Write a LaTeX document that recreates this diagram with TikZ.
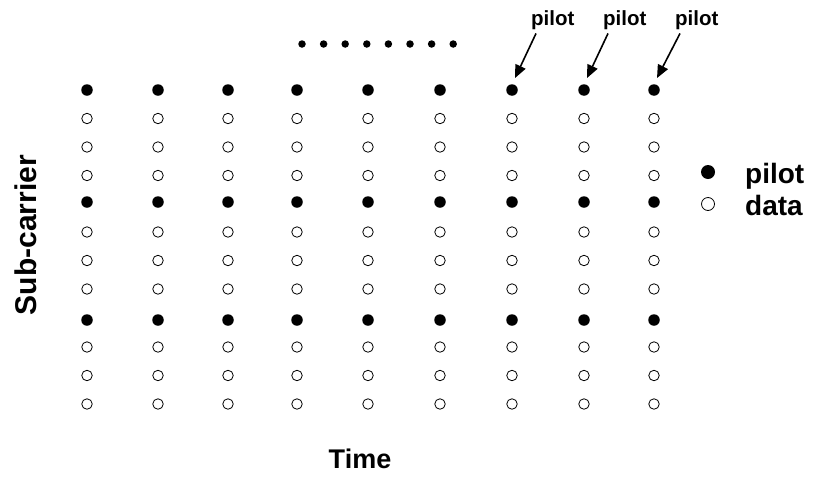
\documentclass[tikz,border=0pt]{standalone}
\usepackage{fontspec}
\setmainfont{Liberation Sans}
\usepackage{tikz}
\usetikzlibrary{arrows.meta}

\begin{document}
\begin{tikzpicture}[x=1pt, y=-1pt]
\tikzstyle{pilot}=[circle, fill=black, minimum size=11.5pt, inner sep=0pt]
\tikzstyle{data}=[circle, draw, line width=0.8pt, minimum size=10.5pt, inner sep=0pt]
\tikzstyle{more}=[circle, fill=black, minimum size=7.5pt, inner sep=0pt]
\tikzstyle{tag}=[font=\bfseries\fontsize{20.5}{24}\selectfont, inner sep=0pt, anchor=base west]
\tikzstyle{key}=[font=\bfseries\fontsize{28}{32}\selectfont, inner sep=0pt, anchor=base west]
\tikzstyle{axis}=[font=\bfseries\fontsize{27}{32}\selectfont, inner sep=0pt, anchor=base]
\tikzstyle{pointer}=[line width=1.6pt, -{Triangle[length=13pt, width=11pt]}]
\useasboundingbox (0,0) rectangle (813,477);

% time slots x sub-carriers, a pilot every fourth sub-carrier
\foreach \x [count=\c] in {87,158,228,297,368,440,512,584,654}
  \foreach \y [count=\r] in {90,118.5,147,175.5,202,232,260.5,289,320,347,375.5,404}
  {
    \pgfmathtruncatemacro{\k}{mod(\r-1,4)}
    \ifnum\k=0
      \node[pilot] (d\c-\r) at (\x,\y) {};
    \else
      \node[data] (d\c-\r) at (\x,\y) {};
    \fi
  }

% more symbols follow
\foreach \i in {0,...,7}
  \node[more] (m\i) at (302+21.6*\i,44) {};

% pilot labels over the last three symbols
\node[tag] (t7) at (531,25) {pilot};
\node[tag] (t8) at (603,25) {pilot};
\node[tag] (t9) at (675,25) {pilot};
\foreach \c in {7,8,9}
  \draw[pointer] ([xshift=5pt,yshift=-4pt]t\c.south west) -- ([xshift=3pt,yshift=6pt]d\c-1.north);

% legend
\node[pilot, minimum size=14pt] (kp) at (708,172) {};
\node[data, minimum size=13pt] (kd) at (708,204) {};
\node[key] (kpt) at (745,183) {pilot};
\node[key] (kdt) at (745,215) {data};

% axes
\node[axis, rotate=90, font=\bfseries\fontsize{30}{34}\selectfont] (freq) at (36,235) {Sub-carrier};
\node[axis] (time) at (360,468) {Time};

\end{tikzpicture}
\end{document}
